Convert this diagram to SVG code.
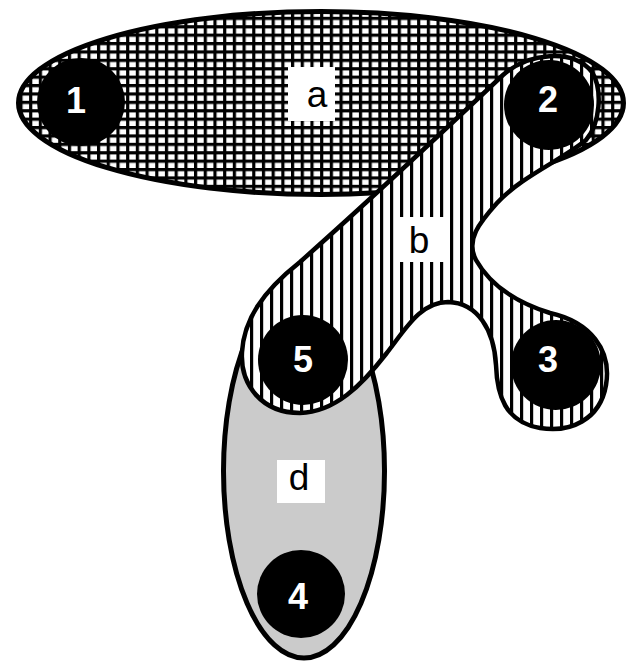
<svg xmlns="http://www.w3.org/2000/svg" width="629" height="661" viewBox="0 0 629 661">
  <defs>
    <pattern id="grid" patternUnits="userSpaceOnUse" width="9.7" height="8.4">
      <rect width="9.7" height="8.4" fill="#fff"/>
      <rect x="0" y="0" width="3.2" height="8.4" fill="#000"/>
      <rect x="0" y="0" width="9.7" height="3.2" fill="#000"/>
    </pattern>
    <pattern id="stripes" patternUnits="userSpaceOnUse" width="10" height="10">
      <rect width="10" height="10" fill="#fff"/>
      <rect x="0" y="0" width="3.2" height="10" fill="#000"/>
    </pattern>
  </defs>
  <style>
    .edge { stroke: #000; stroke-linejoin: round; }
    .node circle { fill: #000; }
    .num { font-family: "Liberation Sans", Arial, sans-serif; font-size: 36px; font-weight: bold; fill: #fff; text-anchor: middle; }
    .lbl { font-family: "Liberation Sans", Arial, sans-serif; font-size: 37px; fill: #000; text-anchor: middle; }
    .box { fill: #fff; }
  </style>
  <rect width="629" height="661" fill="#fff"/>

  <g id="edge-a">
    <ellipse class="edge" cx="321" cy="103" rx="302.5" ry="91.5" fill="url(#grid)" stroke-width="5"/>
    <rect class="box" x="288" y="67" width="47" height="54"/>
    <text class="lbl" x="317" y="107">a</text>
  </g>

  <g id="edge-d">
    <ellipse class="edge" cx="304" cy="471" rx="80.5" ry="187" fill="#cbcbcb" stroke-width="5"/>
    <rect class="box" x="277" y="460" width="48" height="43"/>
    <text class="lbl" x="299" y="490">d</text>
  </g>

  <g id="edge-b">
    <path class="edge" fill="url(#stripes)" stroke-width="4.5"
      d="M 503,75
         C 528,53 572,48 592,72
         C 603,90 600,124 586,140
         C 562,160 522,176 497,203
         C 480,222 465,240 476,260
         C 490,285 515,302 550,313
         C 590,322 612,350 606,385
         C 600,420 570,433 540,428
         C 505,422 497,395 496,365
         C 494,330 478,303 448,302
         C 420,302 405,330 386,354
         C 362,385 335,412 300,413
         C 262,413 240,385 242,352
         C 244,320 262,292 300,262
         C 370,200 450,125 503,75 Z"/>
    <rect class="box" x="396" y="217" width="48" height="45"/>
    <text class="lbl" x="419" y="253">b</text>
  </g>

  <g id="connectors"></g>

  <g id="node-1" class="node">
    <circle cx="81" cy="102" r="44"/>
    <text class="num" x="76" y="113">1</text>
  </g>
  <g id="node-2" class="node">
    <circle cx="549" cy="105" r="45"/>
    <text class="num" x="548" y="112">2</text>
  </g>
  <g id="node-3" class="node">
    <circle cx="556" cy="365" r="45"/>
    <text class="num" x="548" y="372">3</text>
  </g>
  <g id="node-5" class="node">
    <circle cx="303" cy="360" r="45"/>
    <text class="num" x="303" y="372">5</text>
  </g>
  <g id="node-4" class="node">
    <circle cx="301" cy="594" r="44"/>
    <text class="num" x="298" y="609">4</text>
  </g>
</svg>
